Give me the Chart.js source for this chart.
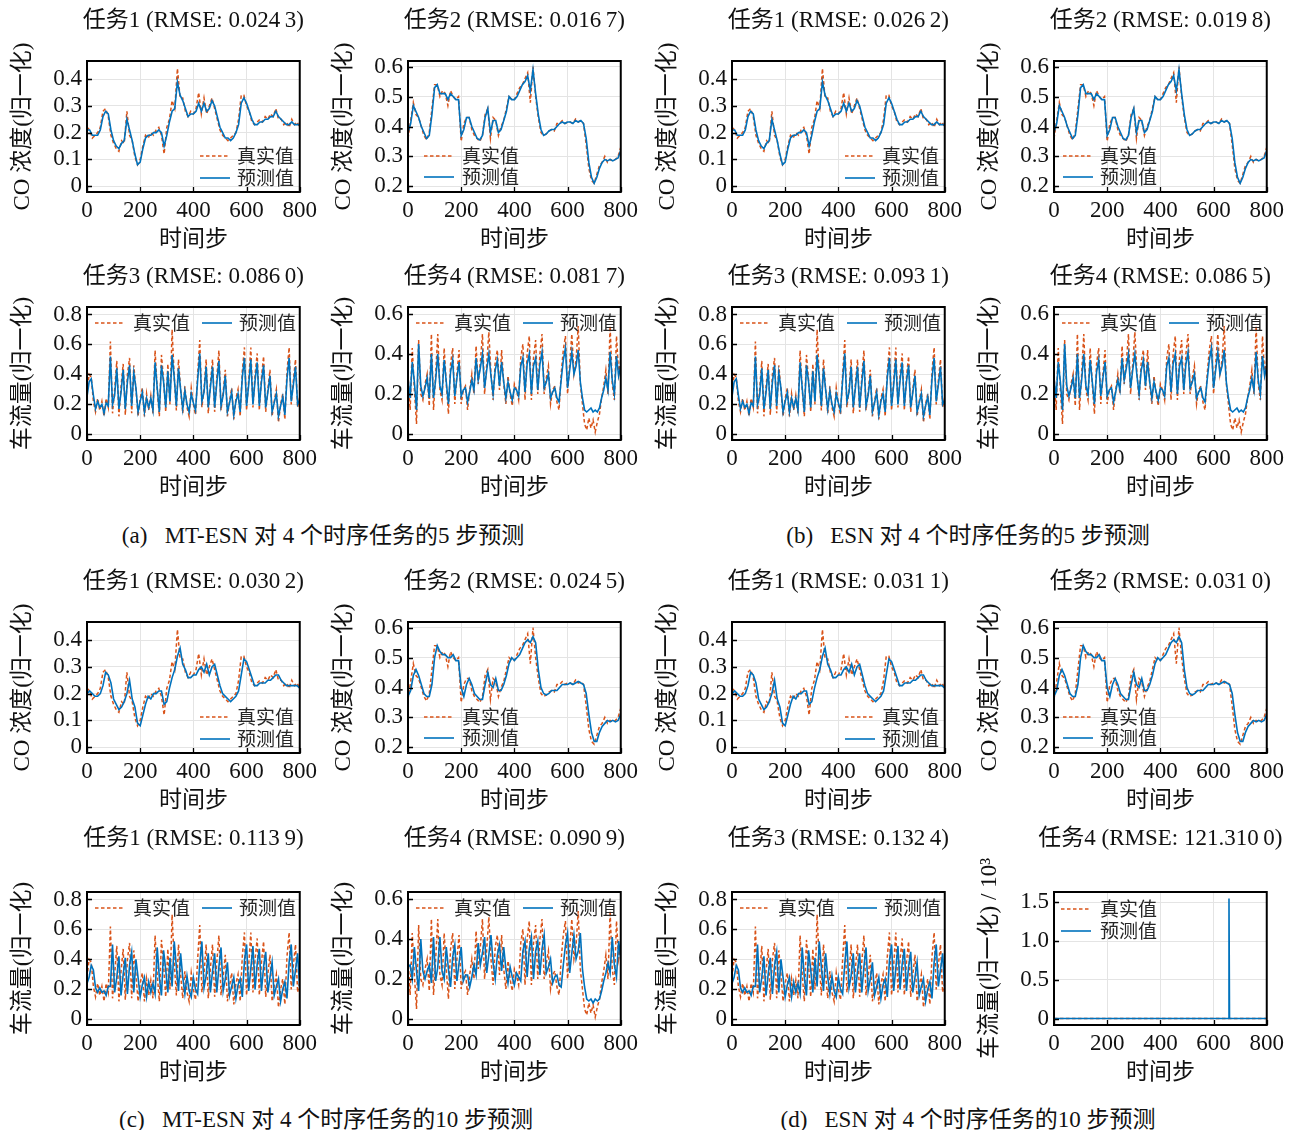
<!DOCTYPE html>
<html>
<head>
<meta charset="utf-8">
<script src="https://cdn.jsdelivr.net/npm/chart.js@4.4.1/dist/chart.umd.min.js"></script>
<style>
  body { margin: 0; background: #fff; width: 1298px; height: 1130px; position: relative; overflow: hidden; }
  canvas { position: absolute; }
  .cap { position: absolute; font: 23px 'Liberation Serif', 'Noto Sans CJK SC', serif; color: #111;
         white-space: pre; transform: translate(-50%, -50%); }
</style>
</head>
<body>
<div class="cap" style="left:323px;top:533px">(a)   MT-ESN 对 4 个时序任务的5 步预测</div>
<div class="cap" style="left:968px;top:533px">(b)   ESN 对 4 个时序任务的5 步预测</div>
<div class="cap" style="left:326px;top:1117px">(c)   MT-ESN 对 4 个时序任务的10 步预测</div>
<div class="cap" style="left:968px;top:1117px">(d)   ESN 对 4 个时序任务的10 步预测</div>
<script>
const xTicks = [0, 200, 400, 600, 800];
const coSteps = Array.from({ length: 81 }, (_, i) => i * 10);
const trafficSteps = Array.from({ length: 101 }, (_, i) => i * 8);

const coTask1True = [
  0.22,0.21,0.18,0.19,0.20,0.22,0.28,0.29,0.26,0.19,0.16,0.14,0.13,0.17,0.16,0.28,0.19,0.17,0.11,0.08,
  0.10,0.15,0.19,0.18,0.20,0.19,0.21,0.22,0.19,0.12,0.22,0.25,0.32,0.29,0.44,0.33,0.33,0.28,0.26,0.28,
  0.27,0.29,0.35,0.27,0.33,0.27,0.30,0.33,0.29,0.25,0.21,0.19,0.18,0.17,0.18,0.19,0.20,0.25,0.34,0.34,
  0.30,0.28,0.24,0.23,0.24,0.25,0.24,0.26,0.25,0.27,0.26,0.29,0.25,0.25,0.23,0.24,0.22,0.25,0.23,0.24,0.22];
const coTask1Pred5 = [
  0.21,0.21,0.19,0.19,0.19,0.21,0.26,0.28,0.27,0.21,0.17,0.15,0.14,0.16,0.17,0.25,0.21,0.17,0.12,0.08,
  0.09,0.14,0.18,0.19,0.19,0.20,0.20,0.21,0.20,0.15,0.19,0.24,0.28,0.29,0.39,0.34,0.32,0.29,0.26,0.27,
  0.27,0.28,0.31,0.28,0.31,0.28,0.29,0.32,0.30,0.26,0.22,0.20,0.18,0.18,0.17,0.18,0.20,0.23,0.31,0.33,
  0.31,0.28,0.25,0.23,0.23,0.24,0.24,0.25,0.25,0.26,0.26,0.28,0.26,0.25,0.24,0.23,0.23,0.24,0.23,0.23,0.23];
const coTask1Pred10 = [
  0.20,0.21,0.20,0.19,0.19,0.20,0.23,0.28,0.27,0.24,0.18,0.16,0.14,0.15,0.17,0.20,0.25,0.18,0.15,0.09,
  0.08,0.12,0.16,0.19,0.18,0.20,0.20,0.21,0.21,0.16,0.17,0.22,0.26,0.29,0.34,0.37,0.31,0.29,0.26,0.26,
  0.27,0.27,0.29,0.30,0.28,0.31,0.27,0.30,0.31,0.27,0.23,0.20,0.19,0.18,0.17,0.18,0.19,0.21,0.27,0.33,
  0.32,0.29,0.26,0.23,0.23,0.24,0.24,0.24,0.25,0.25,0.26,0.27,0.27,0.25,0.24,0.23,0.23,0.23,0.23,0.23,0.22];

const coTask2True = [
  0.36,0.42,0.48,0.44,0.43,0.40,0.37,0.355,0.38,0.46,0.54,0.54,0.50,0.52,0.51,0.47,0.52,0.50,0.49,0.50,
  0.35,0.41,0.43,0.43,0.39,0.37,0.36,0.35,0.37,0.44,0.46,0.36,0.43,0.42,0.37,0.40,0.42,0.46,0.50,0.49,
  0.49,0.51,0.53,0.54,0.56,0.58,0.48,0.60,0.50,0.43,0.38,0.37,0.375,0.385,0.39,0.385,0.41,0.41,0.42,0.41,
  0.415,0.415,0.41,0.425,0.415,0.42,0.41,0.34,0.26,0.22,0.21,0.24,0.27,0.28,0.30,0.28,0.29,0.285,0.29,0.30,0.33];
const coTask2Pred5 = [
  0.38,0.41,0.47,0.45,0.43,0.40,0.38,0.36,0.37,0.44,0.53,0.54,0.51,0.51,0.51,0.49,0.51,0.50,0.49,0.49,
  0.37,0.39,0.43,0.43,0.40,0.38,0.36,0.355,0.37,0.43,0.46,0.38,0.42,0.42,0.38,0.39,0.42,0.45,0.50,0.49,
  0.49,0.50,0.52,0.54,0.55,0.57,0.52,0.59,0.51,0.44,0.39,0.37,0.375,0.385,0.39,0.39,0.40,0.41,0.415,0.41,
  0.415,0.415,0.41,0.42,0.415,0.42,0.41,0.36,0.28,0.23,0.21,0.23,0.26,0.28,0.29,0.285,0.29,0.285,0.29,0.295,0.32];
const coTask2Pred10 = [
  0.37,0.39,0.44,0.46,0.44,0.41,0.38,0.37,0.37,0.41,0.50,0.54,0.52,0.51,0.51,0.50,0.50,0.51,0.49,0.49,
  0.40,0.37,0.41,0.43,0.41,0.38,0.37,0.36,0.36,0.41,0.45,0.41,0.40,0.43,0.39,0.39,0.41,0.44,0.48,0.50,
  0.49,0.50,0.51,0.53,0.55,0.56,0.55,0.57,0.55,0.46,0.40,0.38,0.375,0.38,0.39,0.39,0.39,0.40,0.41,0.41,
  0.41,0.415,0.41,0.415,0.42,0.415,0.41,0.38,0.31,0.25,0.22,0.22,0.25,0.27,0.28,0.29,0.285,0.29,0.285,0.29,0.31];

const traffic3True = [
  0.28,0.40,0.38,0.22,0.15,0.24,0.16,0.22,0.12,0.24,
  0.18,0.62,0.14,0.30,0.49,0.12,0.32,0.47,0.13,0.40,
  0.51,0.14,0.46,0.30,0.12,0.24,0.31,0.12,0.27,0.16,
  0.26,0.14,0.56,0.30,0.12,0.53,0.36,0.15,0.47,0.20,
  0.70,0.38,0.16,0.50,0.30,0.14,0.32,0.18,0.12,0.31,
  0.20,0.13,0.40,0.63,0.18,0.30,0.50,0.14,0.34,0.50,
  0.15,0.38,0.56,0.16,0.28,0.43,0.12,0.22,0.31,0.10,
  0.24,0.30,0.12,0.42,0.58,0.16,0.36,0.58,0.18,0.40,
  0.54,0.16,0.38,0.52,0.15,0.30,0.43,0.12,0.22,0.30,
  0.08,0.20,0.27,0.10,0.42,0.58,0.20,0.36,0.50,0.18,
  0.25];
const traffic3Pred5 = [
  0.25,0.35,0.37,0.26,0.17,0.22,0.18,0.20,0.14,0.21,
  0.19,0.52,0.20,0.26,0.44,0.17,0.28,0.43,0.17,0.35,
  0.46,0.19,0.41,0.31,0.15,0.22,0.28,0.15,0.24,0.18,
  0.24,0.16,0.48,0.31,0.15,0.46,0.35,0.18,0.42,0.22,
  0.53,0.38,0.19,0.44,0.30,0.17,0.29,0.20,0.15,0.27,
  0.21,0.16,0.36,0.54,0.22,0.28,0.45,0.18,0.31,0.45,
  0.18,0.34,0.49,0.19,0.26,0.39,0.15,0.21,0.28,0.13,
  0.22,0.27,0.15,0.38,0.51,0.19,0.33,0.50,0.20,0.36,
  0.48,0.19,0.35,0.46,0.18,0.28,0.39,0.15,0.21,0.27,
  0.12,0.19,0.25,0.13,0.37,0.51,0.22,0.33,0.45,0.20,
  0.23];
const traffic3Pred10 = [
  0.24,0.28,0.36,0.33,0.21,0.18,0.21,0.18,0.19,0.16,
  0.22,0.22,0.50,0.18,0.28,0.42,0.16,0.30,0.41,0.17,
  0.36,0.45,0.18,0.40,0.28,0.15,0.23,0.28,0.15,0.25,
  0.18,0.24,0.17,0.48,0.28,0.16,0.46,0.33,0.18,0.41,
  0.22,0.52,0.35,0.19,0.44,0.28,0.17,0.29,0.19,0.15,
  0.28,0.20,0.17,0.37,0.52,0.21,0.29,0.44,0.18,0.32,
  0.44,0.18,0.35,0.48,0.19,0.27,0.38,0.16,0.22,0.28,
  0.14,0.23,0.27,0.15,0.39,0.50,0.19,0.34,0.49,0.20,
  0.37,0.47,0.19,0.35,0.45,0.18,0.28,0.38,0.16,0.22,
  0.27,0.12,0.20,0.25,0.14,0.38,0.50,0.22,0.33,0.44,
  0.20];

const traffic4True = [
  0.30,0.12,0.43,0.22,0.05,0.47,0.20,0.17,0.25,0.30,
  0.14,0.50,0.12,0.30,0.50,0.22,0.17,0.43,0.25,0.10,
  0.35,0.43,0.15,0.30,0.42,0.15,0.22,0.24,0.12,0.22,
  0.30,0.20,0.44,0.25,0.36,0.50,0.20,0.35,0.51,0.30,
  0.17,0.36,0.42,0.22,0.42,0.25,0.15,0.29,0.20,0.14,
  0.25,0.22,0.17,0.38,0.45,0.17,0.40,0.49,0.17,0.38,
  0.47,0.20,0.40,0.50,0.20,0.28,0.34,0.15,0.22,0.24,
  0.16,0.12,0.30,0.42,0.49,0.20,0.35,0.50,0.30,0.37,
  0.54,0.25,0.15,0.05,0.02,0.08,0.03,0.07,0.01,0.06,
  0.10,0.18,0.24,0.32,0.20,0.54,0.25,0.17,0.49,0.30,
  0.37];
const traffic4Pred5 = [
  0.28,0.18,0.36,0.26,0.12,0.45,0.24,0.19,0.23,0.28,
  0.18,0.40,0.18,0.27,0.40,0.24,0.20,0.37,0.26,0.15,
  0.31,0.37,0.19,0.28,0.36,0.19,0.22,0.23,0.16,0.21,
  0.27,0.22,0.38,0.27,0.33,0.40,0.23,0.32,0.40,0.29,
  0.20,0.32,0.37,0.24,0.36,0.26,0.18,0.26,0.21,0.17,
  0.23,0.22,0.19,0.34,0.38,0.21,0.35,0.40,0.20,0.34,
  0.38,0.22,0.35,0.41,0.23,0.26,0.30,0.18,0.21,0.23,
  0.18,0.16,0.27,0.37,0.43,0.23,0.32,0.41,0.30,0.34,
  0.42,0.26,0.18,0.12,0.11,0.12,0.13,0.11,0.12,0.11,
  0.13,0.18,0.22,0.28,0.22,0.41,0.27,0.20,0.39,0.29,
  0.34];
const traffic4Pred10 = [
  0.26,0.27,0.20,0.36,0.24,0.14,0.40,0.24,0.20,0.24,
  0.27,0.18,0.41,0.19,0.26,0.41,0.24,0.20,0.36,0.25,
  0.16,0.31,0.37,0.19,0.28,0.36,0.19,0.22,0.22,0.16,
  0.21,0.27,0.22,0.38,0.27,0.33,0.41,0.23,0.32,0.42,
  0.28,0.20,0.32,0.37,0.24,0.36,0.25,0.18,0.26,0.21,
  0.17,0.23,0.21,0.19,0.34,0.39,0.21,0.35,0.41,0.20,
  0.34,0.39,0.22,0.35,0.42,0.23,0.26,0.30,0.18,0.21,
  0.22,0.17,0.16,0.27,0.37,0.43,0.23,0.33,0.42,0.30,
  0.34,0.43,0.25,0.16,0.10,0.09,0.10,0.08,0.10,0.09,
  0.10,0.14,0.19,0.23,0.28,0.23,0.41,0.27,0.21,0.39,
  0.30];

// ESN 10-step task 4 diverges: one spike of about 1.55 x 10^3
const esnTask4Steps = [0, 200, 400, 600, 656, 658, 660, 800];
const esnTask4Pred = [0.25, 0.3, 0.2, 0.3, 0.2, 1550, 0.3, 0.3];

// axis ticks
const coTask1Ticks = [0, 0.1, 0.2, 0.3, 0.4];
const coTask1TickLabels = ['0', '0.1', '0.2', '0.3', '0.4'];
const coTask2Ticks = [0.2, 0.3, 0.4, 0.5, 0.6];
const coTask2TickLabels = ['0.2', '0.3', '0.4', '0.5', '0.6'];
const traffic3Ticks = [0, 0.2, 0.4, 0.6, 0.8];
const traffic3TickLabels = ['0', '0.2', '0.4', '0.6', '0.8'];
const traffic4Ticks = [0, 0.2, 0.4, 0.6];
const traffic4TickLabels = ['0', '0.2', '0.4', '0.6'];
const esnTask4Ticks = [0, 500, 1000, 1500];
const esnTask4TickLabels = ['0', '0.5', '1.0', '1.5'];

// ---- layout ----
const FONT = "'Liberation Serif', 'Noto Sans CJK SC', serif";
const CJK = "'Noto Sans CJK SC', sans-serif";
const ORANGE = '#D95319', BLUE = '#0072BD';
const cols = [87, 408, 732, 1054];
const rows = [
  { top: 61, bottom: 192, gap: 40 },
  { top: 307, bottom: 440, gap: 30 },
  { top: 622, bottom: 753, gap: 40 },
  { top: 892, bottom: 1025, gap: 53 }
];
const plotWidth = 213, yAxisWidth = 87, xAxisHeight = 66, padRight = 22;

const legendCo1 = { dir: 'v', line: 113, text: 150, y: [95, 117] };
const legendCo2a = { dir: 'v', line: 16, text: 54, y: [95, 116] };
const legendCo2b = { dir: 'v', line: 9, text: 46, y: [95, 116] };
const legendTraffic = { dir: 'h', y: 16 };
const legendEsn4 = { dir: 'v', line: 7, text: 46, y: [17, 39] };

const CO_TITLE = 'CO 浓度(归一化)', TR_TITLE = '车流量(归一化)';
const co1 = { ticks: coTask1Ticks, labels: coTask1TickLabels, min: -0.022, max: 0.468, yTitle: CO_TITLE, steps: coSteps, truth: coTask1True };
const co2 = { ticks: coTask2Ticks, labels: coTask2TickLabels, min: 0.181, max: 0.619, yTitle: CO_TITLE, steps: coSteps, truth: coTask2True };
const tr3 = { ticks: traffic3Ticks, labels: traffic3TickLabels, min: -0.038, max: 0.85, yTitle: TR_TITLE, steps: trafficSteps, truth: traffic3True };
const tr4 = { ticks: traffic4Ticks, labels: traffic4TickLabels, min: -0.03, max: 0.635, yTitle: TR_TITLE, steps: trafficSteps, truth: traffic4True };

const panels = [
  { row: 0, col: 0, kind: co1, pred: coTask1Pred5, title: '任务1 (RMSE: 0.024\u20093)', legend: legendCo1 },
  { row: 0, col: 1, kind: co2, pred: coTask2Pred5, title: '任务2 (RMSE: 0.016\u20097)', legend: legendCo2a },
  { row: 1, col: 0, kind: tr3, pred: traffic3Pred5, title: '任务3 (RMSE: 0.086\u20090)', legend: legendTraffic },
  { row: 1, col: 1, kind: tr4, pred: traffic4Pred5, title: '任务4 (RMSE: 0.081\u20097)', legend: legendTraffic },
  { row: 0, col: 2, kind: co1, pred: coTask1Pred5, title: '任务1 (RMSE: 0.026\u20092)', legend: legendCo1 },
  { row: 0, col: 3, kind: co2, pred: coTask2Pred5, title: '任务2 (RMSE: 0.019\u20098)', legend: legendCo2b },
  { row: 1, col: 2, kind: tr3, pred: traffic3Pred5, title: '任务3 (RMSE: 0.093\u20091)', legend: legendTraffic },
  { row: 1, col: 3, kind: tr4, pred: traffic4Pred5, title: '任务4 (RMSE: 0.086\u20095)', legend: legendTraffic },
  { row: 2, col: 0, kind: co1, pred: coTask1Pred10, title: '任务1 (RMSE: 0.030\u20092)', legend: legendCo1 },
  { row: 2, col: 1, kind: co2, pred: coTask2Pred10, title: '任务2 (RMSE: 0.024\u20095)', legend: legendCo2a },
  { row: 3, col: 0, kind: tr3, pred: traffic3Pred10, title: '任务1 (RMSE: 0.113\u20099)', legend: legendTraffic },
  { row: 3, col: 1, kind: tr4, pred: traffic4Pred10, title: '任务4 (RMSE: 0.090\u20099)', legend: legendTraffic },
  { row: 2, col: 2, kind: co1, pred: coTask1Pred10, title: '任务1 (RMSE: 0.031\u20091)', legend: legendCo1 },
  { row: 2, col: 3, kind: co2, pred: coTask2Pred10, title: '任务2 (RMSE: 0.031\u20090)', legend: legendCo2b },
  { row: 3, col: 2, kind: tr3, pred: traffic3Pred10, title: '任务3 (RMSE: 0.132\u20094)', legend: legendTraffic },
  {
    row: 3, col: 3, title: '任务4 (RMSE: 121.310\u20090)', legend: legendEsn4,
    kind: { ticks: esnTask4Ticks, labels: esnTask4TickLabels, min: -83, max: 1634,
            yTitle: '车流量(归一化) / 10³', steps: trafficSteps, truth: traffic4True },
    predSteps: esnTask4Steps, pred: esnTask4Pred
  }
];

// box, inward ticks, panel title and in-axes legend
const panelDecor = {
  id: 'panelDecor',
  afterDraw(chart, args, opts) {
    const { ctx, chartArea: a } = chart;
    const xs = chart.scales.x, ys = chart.scales.y;
    ctx.save();
    ctx.strokeStyle = '#000';
    ctx.lineWidth = 1.3;
    ctx.beginPath();
    xs.ticks.forEach(t => {
      const px = Math.round(xs.getPixelForValue(t.value)) + 0.5;
      ctx.moveTo(px, a.bottom); ctx.lineTo(px, a.bottom - 5);
    });
    ys.ticks.forEach(t => {
      const py = Math.round(ys.getPixelForValue(t.value)) + 0.5;
      ctx.moveTo(a.left, py); ctx.lineTo(a.left + 5, py);
    });
    ctx.stroke();
    ctx.lineWidth = 2;
    ctx.strokeRect(a.left, a.top, a.right - a.left, a.bottom - a.top);

    ctx.fillStyle = '#111';
    ctx.textAlign = 'center';
    ctx.textBaseline = 'middle';
    ctx.font = '23px ' + FONT;
    ctx.fillText(opts.title, (a.left + a.right) / 2, a.top - opts.gap);

    const lg = opts.legend;
    const items = [['真实值', ORANGE, [3.5, 2.5]], ['预测值', BLUE, []]];
    ctx.font = '19px ' + CJK;
    ctx.textAlign = 'left';
    ctx.fillStyle = '#262626';
    items.forEach((it, i) => {
      let lx, tx, ly;
      if (lg.dir === 'v') { lx = a.left + lg.line; tx = a.left + lg.text; ly = a.top + lg.y[i]; }
      else { lx = a.left + 8 + i * 107; tx = a.left + 46 + i * 106; ly = a.top + lg.y; }
      ctx.strokeStyle = it[1];
      ctx.lineWidth = 1.6;
      ctx.setLineDash(it[2]);
      ctx.beginPath(); ctx.moveTo(lx, ly); ctx.lineTo(lx + 30, ly); ctx.stroke();
      ctx.setLineDash([]);
      ctx.fillText(it[0], tx, ly);
    });
    ctx.restore();
  }
};

function makePanel(p) {
  const k = p.kind, row = rows[p.row], L = cols[p.col];
  const padTop = row.gap + 24;
  const cv = document.createElement('canvas');
  cv.width = yAxisWidth + plotWidth + padRight;
  cv.height = padTop + (row.bottom - row.top) + xAxisHeight;
  cv.style.left = (L - yAxisWidth) + 'px';
  cv.style.top = (row.top - padTop) + 'px';
  document.body.appendChild(cv);

  const predSteps = p.predSteps || k.steps;
  const grid = { color: '#e4e4e4', lineWidth: 1, drawTicks: false };
  new Chart(cv, {
    type: 'line',
    data: {
      datasets: [
        {
          label: '预测值', order: 0,
          data: p.pred.map((v, i) => ({ x: predSteps[i], y: v })),
          borderColor: BLUE, borderWidth: 1.6, pointRadius: 0, tension: 0
        },
        {
          label: '真实值', order: 1,
          data: k.truth.map((v, i) => ({ x: k.steps[i], y: v })),
          borderColor: ORANGE, borderWidth: 1.5, borderDash: [3.5, 2.5], pointRadius: 0, tension: 0
        }
      ]
    },
    options: {
      responsive: false,
      animation: false,
      events: [],
      layout: { padding: { top: padTop, right: padRight, left: 0, bottom: 0 } },
      scales: {
        x: {
          type: 'linear', min: 0, max: 800,
          afterBuildTicks: s => { s.ticks = xTicks.map(v => ({ value: v })); },
          afterFit: s => { s.height = xAxisHeight; },
          grid: grid,
          border: { display: false },
          ticks: { autoSkip: false, maxRotation: 0, padding: 5, color: '#111',
                   font: { family: FONT, size: 23 }, callback: v => String(v) },
          title: { display: true, text: '时间步', color: '#111', padding: { top: 0, bottom: 4 },
                   font: { family: FONT, size: 23 } }
        },
        y: {
          type: 'linear', min: k.min, max: k.max,
          afterBuildTicks: s => { s.ticks = k.ticks.map(v => ({ value: v })); },
          afterFit: s => { s.width = yAxisWidth; },
          grid: grid,
          border: { display: false },
          ticks: { autoSkip: false, padding: 5, color: '#111',
                   font: { family: FONT, size: 23 }, callback: (v, i) => k.labels[i] },
          title: { display: true, text: k.yTitle, color: '#111', padding: { top: 9, bottom: 0 },
                   font: { family: FONT, size: 23 } }
        }
      },
      plugins: {
        legend: { display: false },
        tooltip: { enabled: false },
        panelDecor: { title: p.title, gap: row.gap, legend: p.legend }
      }
    },
    plugins: [panelDecor]
  });
}

panels.forEach(makePanel);
</script>
</body>
</html>
